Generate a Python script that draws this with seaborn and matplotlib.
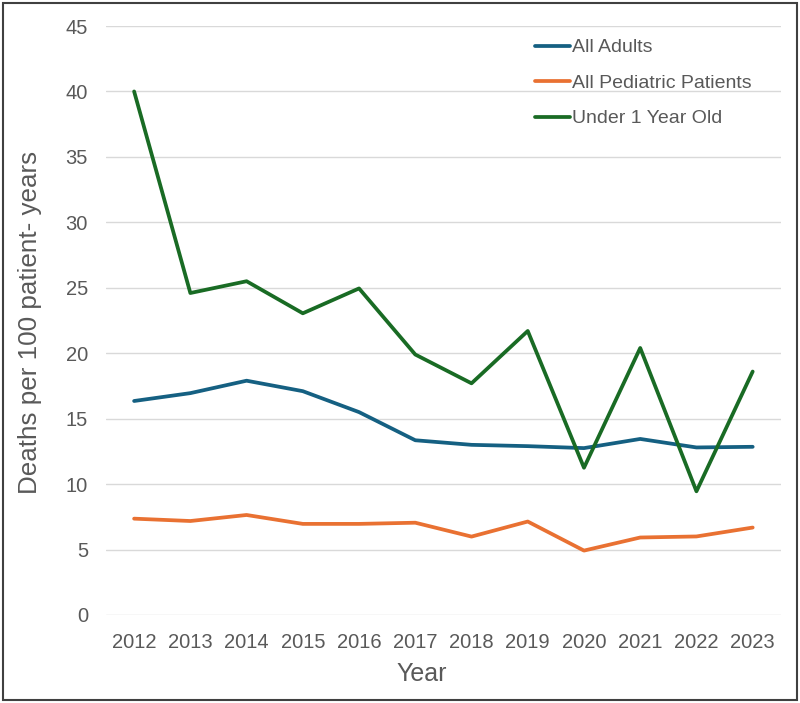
import numpy as np
import pandas as pd
import seaborn as sns
import matplotlib.pyplot as plt
from matplotlib.patches import Rectangle

years = list(range(2012, 2024))
all_adults = [16.35, 16.95, 17.9, 17.1, 15.5, 13.35, 13.0, 12.9, 12.75, 13.45, 12.8, 12.85]
all_pediatric = [7.36, 7.18, 7.64, 6.96, 6.96, 7.05, 5.99, 7.14, 4.92, 5.92, 6.0, 6.68]
under_1 = [40.0, 24.6, 25.5, 23.05, 24.95, 19.9, 17.7, 21.7, 11.25, 20.4, 9.45, 18.6]

series = ['All Adults', 'All Pediatric Patients', 'Under 1 Year Old']
colors = ['#156082', '#E97132', '#196B24']

df = pd.DataFrame({
    'Year': years * 3,
    'value': all_adults + all_pediatric + under_1,
    'series': np.repeat(series, len(years)),
})

sns.set_style('white')
plt.rcParams['font.family'] = ['Liberation Sans', 'DejaVu Sans']
text_color = '#595959'

fig = plt.figure(figsize=(8, 7.03), dpi=100)
ax = fig.add_axes([0.1325, 0.1252, 0.8435, 0.8378])

sns.lineplot(data=df, x='Year', y='value', hue='series', palette=colors,
             linewidth=2.7, ax=ax, legend=False)

ax.set_xlim(2011.5, 2023.5)
ax.set_ylim(0, 45)
ax.set_yticks(range(0, 50, 5))
ax.set_xticks(years)
ax.grid(axis='y', color='#D9D9D9', linewidth=1)
ax.set_axisbelow(True)
for s in ax.spines.values():
    s.set_visible(False)
ax.tick_params(axis='both', length=0, labelsize=14.5, labelcolor=text_color)
ax.tick_params(axis='x', pad=13)
ax.tick_params(axis='y', pad=13)

ax.set_xlabel('Year', fontsize=18, color=text_color, va='center')
ax.xaxis.set_label_coords(0.468, -0.100)
ax.set_ylabel('Deaths per 100 patient- years', fontsize=18.7, color=text_color, va='center')
ax.yaxis.set_label_coords(-0.112, 0.496)

handles = [plt.Line2D([], [], color=c, linewidth=2.7) for c in colors]
ax.legend(handles, series, loc='upper left', bbox_to_anchor=(0.61, 1.008),
          frameon=False, fontsize=14, labelcolor=text_color,
          handlelength=1.8, handletextpad=0.1, labelspacing=0.92)

fig.patches.append(Rectangle((0.004, 0.004), 0.992, 0.992, transform=fig.transFigure,
                             fill=False, edgecolor='#404040', linewidth=1.5))

fig.savefig('out.png', dpi=100)
